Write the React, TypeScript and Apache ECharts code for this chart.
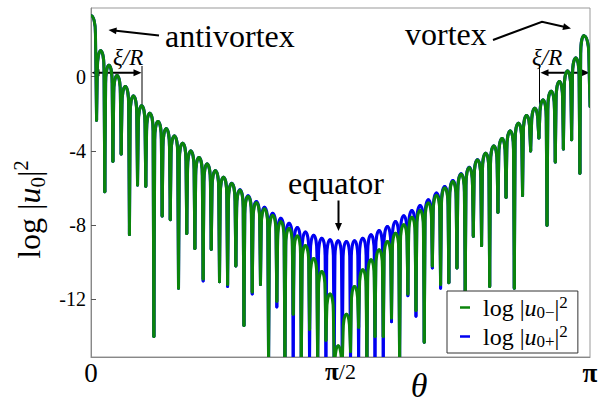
import React, { useEffect, useRef } from 'react';
import * as echarts from 'echarts';

const FONT = '"Liberation Serif", "Times New Roman", serif';

// theta of each lobe maximum (rad)
const peakTheta = [
  0.061, 0.113, 0.164, 0.216, 0.267, 0.319, 0.370, 0.422, 0.474, 0.525,
  0.577, 0.628, 0.680, 0.731, 0.783, 0.834, 0.886, 0.938, 0.989, 1.041,
  1.092, 1.144, 1.195, 1.247, 1.299, 1.350, 1.402, 1.453, 1.505, 1.556,
  1.608, 1.659, 1.711, 1.763, 1.814, 1.866, 1.917, 1.969, 2.020, 2.072,
  2.124, 2.175, 2.227, 2.278, 2.330, 2.381, 2.433, 2.485, 2.536, 2.588,
  2.639, 2.691, 2.742, 2.794, 2.846, 2.897, 2.949, 3.000, 3.052, 3.103,
];
// theta of each minimum (just before the matching maximum)
const dipTheta = [
  0.035, 0.087, 0.138, 0.190, 0.242, 0.293, 0.345, 0.396, 0.448, 0.499,
  0.551, 0.603, 0.654, 0.706, 0.757, 0.809, 0.860, 0.912, 0.963, 1.015,
  1.067, 1.118, 1.170, 1.221, 1.273, 1.324, 1.376, 1.427, 1.479, 1.531,
  1.582, 1.634, 1.685, 1.737, 1.788, 1.840, 1.892, 1.943, 1.995, 2.046,
  2.098, 2.149, 2.201, 2.253, 2.304, 2.356, 2.407, 2.459, 2.510, 2.562,
  2.613, 2.665, 2.717, 2.768, 2.820, 2.871, 2.923, 2.974, 3.026, 3.078,
];
const edgeTheta = [0, 3.1416];

const bluePeak = [
  1.40, 0.61, 0.06, -0.53, -1.04, -1.56, -1.97, -2.42, -2.81, -3.19,
  -3.58, -4.00, -4.36, -4.71, -5.07, -5.42, -5.74, -6.09, -6.42, -6.72,
  -7.03, -7.35, -7.62, -7.89, -8.12, -8.36, -8.54, -8.70, -8.79, -8.84,
  -8.88, -8.84, -8.70, -8.52, -8.28, -8.07, -7.80, -7.49, -7.21, -6.94,
  -6.63, -6.27, -5.92, -5.59, -5.23, -4.88, -4.48, -4.12, -3.73, -3.33,
  -2.92, -2.51, -2.09, -1.70, -1.25, -0.78, -0.26, 0.30, 1.00, 2.20,
];
const greenPeak = [
  1.40, 0.61, 0.06, -0.53, -1.04, -1.56, -1.97, -2.42, -2.81, -3.19,
  -3.58, -4.00, -4.36, -4.71, -5.07, -5.42, -5.76, -6.12, -6.46, -6.79,
  -7.13, -7.48, -7.82, -8.18, -8.58, -9.10, -9.80, -10.50, -11.70, -14.50,
  -12.80, -11.30, -10.40, -9.86, -9.32, -8.88, -8.43, -7.98, -7.57, -7.21,
  -6.81, -6.40, -6.00, -5.64, -5.26, -4.90, -4.49, -4.12, -3.73, -3.33,
  -2.92, -2.51, -2.09, -1.70, -1.25, -0.78, -0.26, 0.30, 1.00, 2.20,
];
const blueDip = [
  -2.35, -6.2, -4.56, -4.16, -8.5, -5.84, -5.9, -14.0, -7.5, -7.7,
  -11.4, -8.45, -9.25, -11.0, -9.3, -11.05, -11.3, -10.2, -13.4, -11.7,
  -11.2, -15.5, -12.4, -15.5, -15.5, -15.5, -15.5, -15.5, -15.5, -15.5,
  -15.5, -15.5, -15.5, -15.5, -15.5, -15.5, -13.2, -15.5, -11.8, -12.9,
  -14.3, -10.3, -11.4, -11.1, -10.3, -11.6, -8.6, -9.1, -11.3, -7.3,
  -6.5, -11.4, -6.4, -4.0, -3.3, -8.0, -4.6, -3.9, -3.4, -5.2,
];
const greenDip = [
  -2.35, -6.2, -4.56, -4.16, -8.5, -5.84, -5.9, -14.0, -7.5, -7.7,
  -11.4, -8.45, -9.25, -10.9, -9.3, -11.05, -11.2, -10.2, -13.4, -11.6,
  -11.2, -15.5, -12.1, -15.5, -12.8, -15.5, -13.6, -15.5, -14.2, -15.5,
  -15.5, -14.8, -13.5, -15.5, -14.0, -14.0, -13.0, -15.5, -11.7, -12.6,
  -14.3, -10.2, -11.2, -11.1, -10.3, -11.6, -8.6, -9.1, -11.3, -7.3,
  -6.5, -11.4, -6.4, -4.0, -3.3, -8.0, -4.6, -3.9, -3.4, -5.2,
];
const blueEdge = [3.3, -1.6];
const greenEdge = [3.3, -1.6];

const yTicks = [-12, -8, -4, 0];
const xTicks = [0, Math.PI / 2, Math.PI];
const xTickLabels = ['{z|0}', '{h|π}{t|/2}', '{P|π}'];

const GREEN = '#0b840b';
const BLUE = '#0000f0';
const NAME_MINUS = 'log |u0−|²';
const NAME_PLUS = 'log |u0+|²';

function build(peaks: number[], dips: number[], edge: number[]) {
  const pts: number[][] = [[edgeTheta[0], edge[0]]];
  for (let i = 0; i < peaks.length; i++) {
    pts.push([dipTheta[i], dips[i]]);
    pts.push([peakTheta[i], peaks[i]]);
  }
  pts.push([edgeTheta[1], edge[1]]);
  return pts;
}

// one half-lobe, drawn from the higher end (rounded cap) to the lower end (sharp cusp)
const CAP = 18;
const KNEE = 0.8;
function halfLobe(a: number[], b: number[]) {
  const top = a[1] <= b[1] ? a : b;
  const bot = a[1] <= b[1] ? b : a;
  const W = bot[0] - top[0];
  const H = bot[1] - top[1];
  const f = (n: number) => n.toFixed(2);
  if (H <= CAP) {
    return `M${f(top[0])},${f(top[1])}C${f(top[0] + 0.552 * W)},${f(top[1])} ${f(bot[0])},${f(bot[1] - 0.552 * H)} ${f(bot[0])},${f(bot[1])}`;
  }
  const kx = top[0] + KNEE * W;
  const ky = top[1] + CAP;
  return `M${f(top[0])},${f(top[1])}C${f(top[0] + 0.552 * KNEE * W)},${f(top[1])} ${f(kx)},${f(ky - 0.552 * CAP)} ${f(kx)},${f(ky)}L${f(bot[0])},${f(bot[1])}`;
}

function curveSeries(name: string, color: string, pts: number[][], z: number) {
  return {
    name,
    type: 'custom',
    clip: true,
    z,
    data: pts,
    encode: { x: 0, y: 1 },
    itemStyle: { color },
    renderItem: (params: any, api: any) => {
      const i = params.dataIndex;
      if (i >= pts.length - 1) return null;
      const a = api.coord(pts[i]);
      const b = api.coord(pts[i + 1]);
      return {
        type: 'path',
        shape: { pathData: halfLobe(a, b) },
        style: { fill: 'none', stroke: color, lineWidth: 3, lineJoin: 'round', lineCap: 'round' },
      };
    },
  };
}

function head(tx: number, ty: number, fx: number, fy: number, len = 8, half = 3.5) {
  const dx = tx - fx, dy = ty - fy;
  const d = Math.sqrt(dx * dx + dy * dy);
  const ux = dx / d, uy = dy / d;
  const bx = tx - ux * len, by = ty - uy * len;
  return {
    type: 'polygon',
    shape: { points: [[tx, ty], [bx - uy * half, by + ux * half], [bx + uy * half, by - ux * half]] },
    style: { fill: '#000' },
    silent: true,
  };
}

const richLegend = {
  g: { width: 8, fontSize: 24 },
  n: { fontSize: 24, fontFamily: FONT, color: '#000', lineHeight: 27 },
  i: { fontSize: 24, fontFamily: FONT, fontStyle: 'italic', color: '#000', lineHeight: 27 },
  s: { fontSize: 17, fontFamily: FONT, color: '#000', lineHeight: 15, verticalAlign: 'bottom' },
  p: { fontSize: 17, fontFamily: FONT, color: '#000', lineHeight: 15, verticalAlign: 'top' },
};

export default function App() {
  const ref = useRef<HTMLDivElement>(null);
  useEffect(() => {
    const chart = echarts.init(ref.current!, null, { renderer: 'svg' });
    const option: any = {
      animation: false,
      backgroundColor: '#fff',
      grid: {
        left: 91, right: 23, top: 8, bottom: 45,
        show: true, borderColor: '#999', borderWidth: 1,
        containLabel: false, outerBoundsMode: 'none',
      },
      xAxis: {
        type: 'value',
        min: 0,
        max: Math.PI,
        name: 'θ',
        nameLocation: 'middle',
        nameGap: 11,
        nameMoveOverlap: false,
        nameTextStyle: { fontSize: 34, fontStyle: 'italic', fontFamily: FONT, color: '#000', padding: [0, 0, 0, 157] },
        axisLine: { show: true, onZero: false, lineStyle: { color: '#888', width: 1 } },
        axisTick: { show: false },
        splitLine: { show: false },
        axisLabel: {
          customValues: xTicks,
          margin: 2,
          formatter: (v: number) => xTickLabels[xTicks.findIndex((t) => Math.abs(t - v) < 1e-6)] ?? '',
          rich: {
            z: { fontSize: 27, fontFamily: FONT, color: '#000' },
            h: { fontSize: 25, fontFamily: FONT, fontWeight: 'bold', color: '#000' },
            t: { fontSize: 22, fontFamily: FONT, color: '#000' },
            P: { fontSize: 27, fontFamily: FONT, fontWeight: 'bold', color: '#000' },
          },
        },
      },
      yAxis: {
        type: 'value',
        min: -15.1,
        max: 3.7,
        name: '{n|log |}{i|u}{s|0}{n||}{p|2}',
        nameLocation: 'middle',
        nameRotate: 90,
        nameGap: 43,
        nameMoveOverlap: false,
        nameTextStyle: {
          padding: [0, 54, 0, 0],
          rich: {
            n: { fontSize: 32, fontFamily: FONT, color: '#000', lineHeight: 38 },
            i: { fontSize: 32, fontFamily: FONT, fontStyle: 'italic', color: '#000', lineHeight: 38 },
            s: { fontSize: 21, fontFamily: FONT, color: '#000', lineHeight: 19, verticalAlign: 'bottom' },
            p: { fontSize: 21, fontFamily: FONT, color: '#000', lineHeight: 19, verticalAlign: 'top' },
          },
        },
        axisLine: { show: true, onZero: false, lineStyle: { color: '#888', width: 1 } },
        axisTick: { show: true, inside: true, length: 5, customValues: yTicks, lineStyle: { color: '#555' } },
        splitLine: { show: false },
        axisLabel: { customValues: yTicks, margin: 5, fontSize: 20, fontFamily: FONT, color: '#000' },
      },
      legend: {
        orient: 'vertical',
        left: 447,
        top: 291,
        padding: [3, 10, 3, 13],
        itemGap: 2,
        itemWidth: 10,
        itemHeight: 2.5,
        icon: 'rect',
        borderColor: '#333',
        borderWidth: 1,
        backgroundColor: '#fff',
        data: [NAME_MINUS, NAME_PLUS],
        formatter: (name: string) =>
          name === NAME_MINUS
            ? '{g| }{n|log |}{i|u}{s|0−}{n||}{p|2}'
            : '{g| }{n|log |}{i|u}{s|0+}{n||}{p|2}',
        textStyle: { rich: richLegend },
      },
      series: [
        curveSeries(NAME_PLUS, BLUE, build(bluePeak, blueDip, blueEdge), 2),
        curveSeries(NAME_MINUS, GREEN, build(greenPeak, greenDip, greenEdge), 3),
      ],
      graphic: [
        { type: 'text', x: 165, y: 36, style: { text: 'antivortex', fontSize: 32, fontFamily: FONT, fill: '#000', verticalAlign: 'middle' } },
        { type: 'line', shape: { x1: 159, y1: 35.5, x2: 114, y2: 30.5 }, style: { stroke: '#000', lineWidth: 2 } },
        head(108.5, 30, 159, 35.5),
        { type: 'text', x: 405, y: 34, style: { text: 'vortex', fontSize: 32, fontFamily: FONT, fill: '#000', verticalAlign: 'middle' } },
        { type: 'polyline', shape: { points: [[493, 40], [542, 21.7], [565, 27]] }, style: { stroke: '#000', lineWidth: 2, fill: 'none' } },
        head(571, 28.5, 542, 21.7),
        { type: 'text', x: 288, y: 183, style: { text: 'equator', fontSize: 32, fontFamily: FONT, fill: '#000', verticalAlign: 'middle' } },
        { type: 'line', shape: { x1: 338.5, y1: 200.5, x2: 338.5, y2: 224 }, style: { stroke: '#000', lineWidth: 2 } },
        head(338.5, 231, 338.5, 200.5),
        { type: 'text', x: 113, y: 57, style: { text: 'ξ/R', fontSize: 23, fontStyle: 'italic', fontFamily: FONT, fill: '#000', verticalAlign: 'middle' } },
        { type: 'line', shape: { x1: 97, y1: 72.7, x2: 136, y2: 72.7 }, style: { stroke: '#000', lineWidth: 2 } },
        head(91.5, 72.7, 141.5, 72.7),
        head(141.5, 72.7, 91.5, 72.7),
        { type: 'line', shape: { x1: 142, y1: 66, x2: 142, y2: 104 }, style: { stroke: '#000', lineWidth: 1 } },
        { type: 'text', x: 532, y: 57, style: { text: 'ξ/R', fontSize: 23, fontStyle: 'italic', fontFamily: FONT, fill: '#000', verticalAlign: 'middle' } },
        { type: 'line', shape: { x1: 546, y1: 72.7, x2: 583.5, y2: 72.7 }, style: { stroke: '#000', lineWidth: 2 } },
        head(540.5, 72.7, 589.5, 72.7),
        head(589.5, 72.7, 540.5, 72.7),
        { type: 'line', shape: { x1: 539.5, y1: 65, x2: 539.5, y2: 104 }, style: { stroke: '#000', lineWidth: 1 } },
      ],
    };
    chart.setOption(option);
    return () => chart.dispose();
  }, []);
  return <div ref={ref} style={{ position: 'absolute', left: 0, top: 0, width: 613, height: 402 }} />;
}
